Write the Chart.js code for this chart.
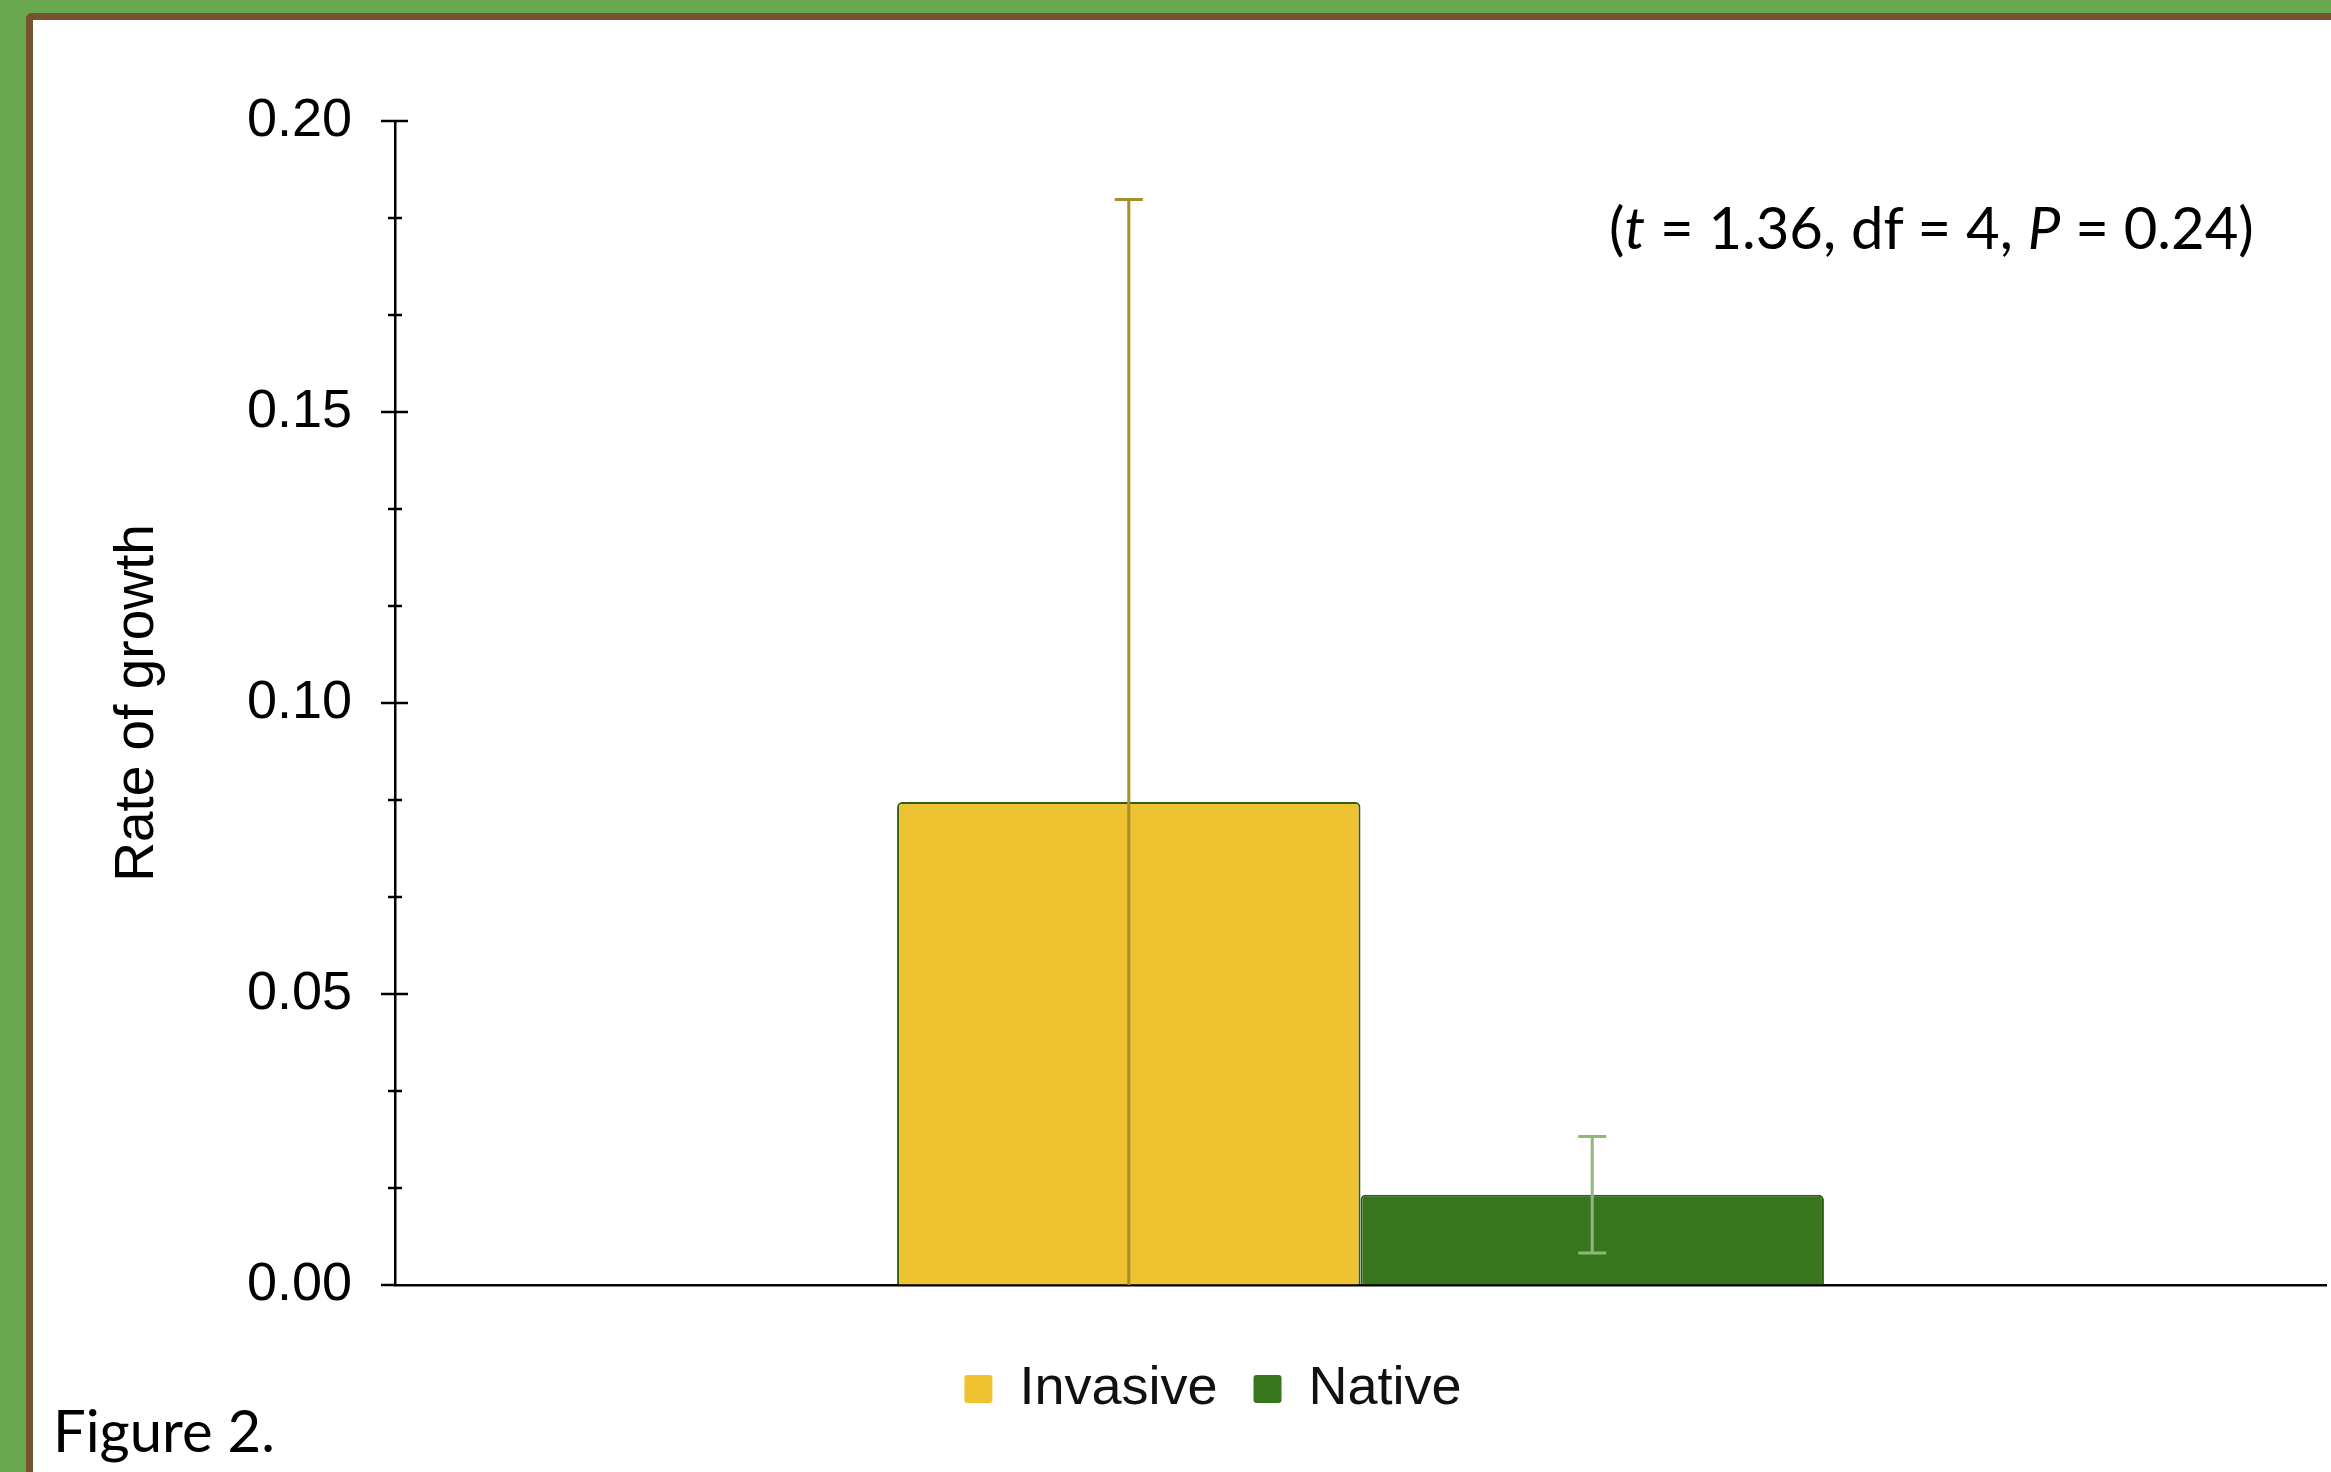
<!DOCTYPE html>
<html>
<head>
<meta charset="utf-8">
<script src="https://cdn.jsdelivr.net/npm/chart.js@4.4.1/dist/chart.umd.min.js"></script>
<style>
  html, body { margin: 0; padding: 0; }
  body { width: 2331px; height: 1472px; overflow: hidden; position: relative; background: #6aa84f; }
  #marco {
    position: absolute; left: 26px; top: 13px; width: 2400px; height: 1500px;
    background: #fff; border-top: 7px solid #76532e; border-left: 7px solid #76532e;
    border-top-left-radius: 6px;
  }
  #grafico { position: absolute; left: 100px; top: 0; }
  .texto { position: absolute; font-family: 'Lato', 'Open Sans', sans-serif; color: #000; white-space: nowrap; }
  #estadistico { left: 1609px; top: 190px; font-size: 58px; line-height: 74px; }
  #figura { left: 53px; top: 1394px; font-size: 58px; line-height: 72px; }
</style>
</head>
<body>
<div id="marco"></div>
<canvas id="grafico" width="2231" height="1472"></canvas>
<div class="texto" id="estadistico">(<i>t</i> = 1.36, df = 4, <i>P</i> = 0.24)</div>
<div class="texto" id="figura">Figure 2.</div>
<script>
// Datos
const categorias = [''];
const series = ['Invasive', 'Native'];
const medias = [0.083, 0.0155];
const errores = [0.1035, 0.0100];
const ticksY = [0, 0.05, 0.10, 0.15, 0.20];

const colores = ['#efc232', '#38761d'];
const coloresError = ['#a38f2c', '#8dba7b'];

// Barras de error dibujadas con la escala del eje Y
const barrasDeError = {
    id: 'barrasDeError',
    afterDatasetsDraw(chart) {
        const { ctx, scales: { y } } = chart;
        ctx.save();
        chart.data.datasets.forEach((ds, i) => {
            chart.getDatasetMeta(i).data.forEach((barra, j) => {
                const v = ds.data[j];
                const e = ds.errores[j];
                const arriba = y.getPixelForValue(v + e);
                const abajo = y.getPixelForValue(Math.max(v - e, y.min));
                const x = barra.x;
                ctx.strokeStyle = ds.colorError;
                ctx.lineWidth = 3;
                ctx.beginPath();
                ctx.moveTo(x, arriba);
                ctx.lineTo(x, abajo);
                ctx.moveTo(x - 14, arriba);
                ctx.lineTo(x + 14, arriba);
                if (v - e > y.min) {
                    ctx.moveTo(x - 14, abajo);
                    ctx.lineTo(x + 14, abajo);
                }
                ctx.stroke();
            });
        });
        ctx.restore();
    }
};

// Marcas del eje Y que cruzan la línea del eje
const marcasEje = {
    id: 'marcasEje',
    afterDraw(chart) {
        const { ctx, scales: { y } } = chart;
        const x0 = y.right;
        ctx.save();
        ctx.strokeStyle = '#000';
        ctx.lineWidth = 2.5;
        ctx.beginPath();
        ticksY.forEach((t, i) => {
            const py = y.getPixelForValue(t);
            ctx.moveTo(x0 - 14, py);
            ctx.lineTo(x0 + (i === 0 ? 0 : 13), py);
            if (i < ticksY.length - 1) {
                const paso = (ticksY[i + 1] - t) / 3;
                for (let k = 1; k < 3; k++) {
                    const pm = y.getPixelForValue(t + paso * k);
                    ctx.moveTo(x0 - 7, pm);
                    ctx.lineTo(x0 + 7, pm);
                }
            }
        });
        ctx.stroke();
        ctx.restore();
    }
};

Chart.defaults.font.family = "'Liberation Sans', Arial, sans-serif";
Chart.defaults.color = '#000';

new Chart(document.getElementById('grafico'), {
    type: 'bar',
    data: {
        labels: categorias,
        datasets: series.map((nombre, i) => ({
            label: nombre,
            data: [medias[i]],
            errores: [errores[i]],
            colorError: coloresError[i],
            backgroundColor: colores[i],
            borderColor: '#2f5f17',
            borderWidth: 2,
            borderSkipped: 'bottom',
            borderRadius: { topLeft: 5, topRight: 5 },
            barPercentage: 1,
            categoryPercentage: 0.48
        }))
    },
    options: {
        responsive: false,
        devicePixelRatio: 1,
        animation: false,
        layout: { padding: { top: 121, right: 5, bottom: 46, left: 0 } },
        plugins: {
            tooltip: { enabled: false },
            legend: {
                position: 'bottom',
                labels: {
                    font: { size: 54 },
                    boxWidth: 28,
                    boxHeight: 28,
                    padding: 36,
                    color: '#111',
                    useBorderRadius: true,
                    borderRadius: 3,
                    generateLabels: chart => Chart.defaults.plugins.legend.labels.generateLabels(chart)
                        .map(l => ({ ...l, lineWidth: 0, strokeStyle: l.fillStyle }))
                }
            }
        },
        scales: {
            x: {
                afterFit: escala => { escala.height = 41; },
                grid: { display: false },
                ticks: { display: false },
                border: { display: true, color: '#000', width: 2.5 }
            },
            y: {
                min: 0,
                max: 0.2,
                afterFit: escala => { escala.width = 295; },
                afterBuildTicks: escala => { escala.ticks = ticksY.map(v => ({ value: v })); },
                ticks: {
                    padding: 43,
                    font: { size: 54 },
                    callback: v => v.toFixed(2)
                },
                grid: { display: true, drawOnChartArea: false, drawTicks: false },
                border: { display: true, color: '#000', width: 2.5 },
                title: {
                    display: true,
                    text: 'Rate of growth',
                    font: { size: 55 },
                    padding: { top: 5, bottom: 0 }
                }
            }
        }
    },
    plugins: [barrasDeError, marcasEje]
});
</script>
</body>
</html>
